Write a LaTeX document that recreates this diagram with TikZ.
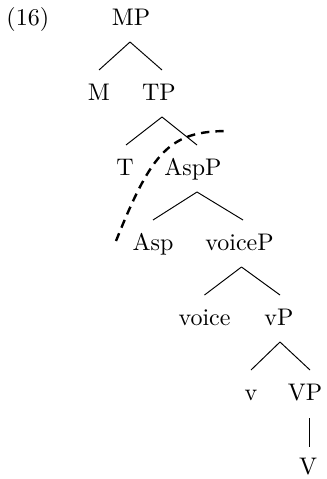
\documentclass[tikz,border=0pt]{standalone}
\usetikzlibrary{calc}
\begin{document}
\begin{tikzpicture}[x=0.41667pt,y=-0.41667pt,
  lbl/.style={inner sep=0pt,anchor=base},
  branch/.style={line width=0.4pt},
  movement/.style={line width=1pt,dash pattern=on 3.5pt off 2.5pt}]
\useasboundingbox (0,0) rectangle (326,479);

% example number
\node[inner sep=0pt,anchor=base west] (ex) at (6,25) {(16)};

% tree labels
\node[lbl] (MP) at (131,25) {MP};
\node[lbl] (M) at (99,100) {M};
\node[lbl] (TP) at (159,100) {TP};
\node[lbl] (T) at (125,175) {T};
\node[lbl] (AspP) at (193,175) {AspP};
\node[lbl] (Asp) at (153,250) {Asp};
\node[lbl] (voiceP) at (239.5,250) {voiceP};
\node[lbl] (voice) at (204.5,325) {voice};
\node[lbl] (vP) at (279,325) {vP};
\node[lbl] (v) at (251,400) {v};
\node[lbl] (VP) at (305,400) {VP};
\node[lbl] (V) at (308,474) {V};

% branches
\draw[branch] ($(MP.base)+(-1,17)$) -- ($(M.base)+(0,-30)$);
\draw[branch] ($(MP.base)+(-1,17)$) -- ($(TP.base)+(3,-30)$);
\draw[branch] ($(TP.base)+(3,17)$) -- ($(T.base)+(1,-30)$);
\draw[branch] ($(TP.base)+(3,17)$) -- ($(AspP.base)+(4,-30)$);
\draw[branch] ($(AspP.base)+(4,17)$) -- ($(Asp.base)+(0,-30)$);
\draw[branch] ($(AspP.base)+(4,17)$) -- ($(voiceP.base)+(3.5,-30)$);
\draw[branch] ($(voiceP.base)+(2,17)$) -- ($(voice.base)+(0,-30)$);
\draw[branch] ($(voiceP.base)+(2,17)$) -- ($(vP.base)+(1,-30)$);
\draw[branch] ($(vP.base)+(1,17)$) -- ($(v.base)+(0,-30)$);
\draw[branch] ($(vP.base)+(1,17)$) -- ($(VP.base)+(5,-30)$);
\draw[branch] ($(VP.base)+(4,18)$) -- ($(V.base)+(1,-27)$);

% dashed boundary curve
\coordinate (cstart) at ($(Asp.base)+(-37,-9)$);
\coordinate (cend) at ($(AspP.base)+(35,-44)$);
\draw[movement] (cstart) .. controls ($(cstart)+(36,-90)$) and ($(cend)+(-58,0)$) .. (cend);
\end{tikzpicture}
\end{document}
